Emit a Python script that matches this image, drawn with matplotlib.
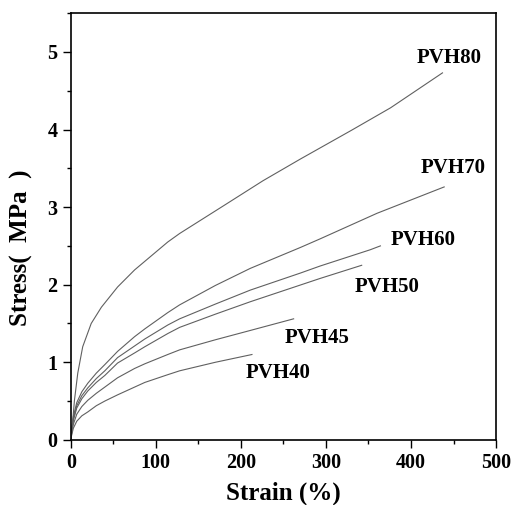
import matplotlib
matplotlib.use("Agg")
import matplotlib.pyplot as plt
from matplotlib.ticker import MultipleLocator

plt.rcParams["font.family"] = ["Liberation Serif", "DejaVu Serif"]
plt.rcParams["font.weight"] = "bold"

# 应力-应变曲线
strain_80 = [0, 1, 2.4, 4.3, 8.2, 14, 24, 36, 55, 75, 114, 128, 180, 226, 270, 330, 376, 437]
stress_80 = [0, 0.12, 0.26, 0.51, 0.86, 1.20, 1.50, 1.71, 1.97, 2.19, 2.55, 2.66, 3.02, 3.34, 3.62, 3.99, 4.28, 4.73]

strain_70 = [0, 1, 3, 7, 13, 20, 30, 40, 55, 75, 87, 114, 128, 170, 211, 270, 293, 360, 439]
stress_70 = [0, 0.12, 0.30, 0.48, 0.62, 0.73, 0.86, 0.97, 1.14, 1.33, 1.43, 1.64, 1.74, 1.99, 2.21, 2.48, 2.59, 2.92, 3.26]

strain_60 = [0, 1, 3, 7, 13, 20, 30, 40, 55, 75, 87, 114, 128, 170, 211, 270, 293, 352, 364]
stress_60 = [0, 0.11, 0.27, 0.44, 0.57, 0.67, 0.79, 0.89, 1.06, 1.21, 1.30, 1.48, 1.56, 1.75, 1.93, 2.15, 2.24, 2.45, 2.50]

strain_50 = [0, 1, 3, 7, 13, 20, 30, 40, 55, 75, 87, 114, 128, 170, 211, 293, 342]
stress_50 = [0, 0.10, 0.25, 0.41, 0.53, 0.63, 0.74, 0.83, 0.99, 1.12, 1.20, 1.37, 1.45, 1.62, 1.78, 2.08, 2.25]

strain_45 = [0, 1, 3, 7, 13, 20, 30, 40, 55, 75, 87, 114, 128, 170, 211, 262]
stress_45 = [0, 0.08, 0.20, 0.33, 0.43, 0.51, 0.60, 0.68, 0.80, 0.92, 0.98, 1.10, 1.16, 1.29, 1.41, 1.56]

strain_40 = [0, 1, 3, 7, 13, 20, 30, 40, 55, 75, 87, 114, 128, 170, 213]
stress_40 = [0, 0.06, 0.15, 0.24, 0.31, 0.36, 0.44, 0.50, 0.58, 0.68, 0.74, 0.84, 0.89, 1.00, 1.10]

names = ["PVH80", "PVH70", "PVH60", "PVH50", "PVH45", "PVH40"]
label_x = [445, 450, 414, 372, 290, 244]
label_y = [4.92, 3.50, 2.57, 1.97, 1.31, 0.86]

fig = plt.figure(figsize=(5.13, 5.05), dpi=100)
ax = fig.add_axes([0.138, 0.129, 0.829, 0.845])

curves = [(strain_80, stress_80), (strain_70, stress_70), (strain_60, stress_60),
          (strain_50, stress_50), (strain_45, stress_45), (strain_40, stress_40)]
for x, y in curves:
    ax.plot(x, y, color="#606060", linewidth=0.8)

for name, tx, ty in zip(names, label_x, label_y):
    ax.text(tx, ty, name, ha="center", va="center", fontsize=15, fontweight="bold")

ax.set_xlim(0, 500)
ax.set_ylim(0, 5.5)
ax.xaxis.set_major_locator(MultipleLocator(100))
ax.xaxis.set_minor_locator(MultipleLocator(50))
ax.yaxis.set_major_locator(MultipleLocator(1))
ax.yaxis.set_minor_locator(MultipleLocator(0.5))
ax.tick_params(which="major", direction="out", length=6, width=1, labelsize=14.5)
ax.tick_params(which="minor", direction="out", length=3, width=1)
for s in ax.spines.values():
    s.set_linewidth(1.2)
for lab in ax.get_xticklabels() + ax.get_yticklabels():
    lab.set_fontweight("bold")

ax.set_xlabel("Strain (%)", fontsize=18, fontweight="bold", labelpad=6)
ax.set_ylabel("Stress(  MPa  )", fontsize=18, fontweight="bold", labelpad=8)
ax.yaxis.set_label_coords(-0.09, 0.45)

plt.savefig("out.png", dpi=100)
